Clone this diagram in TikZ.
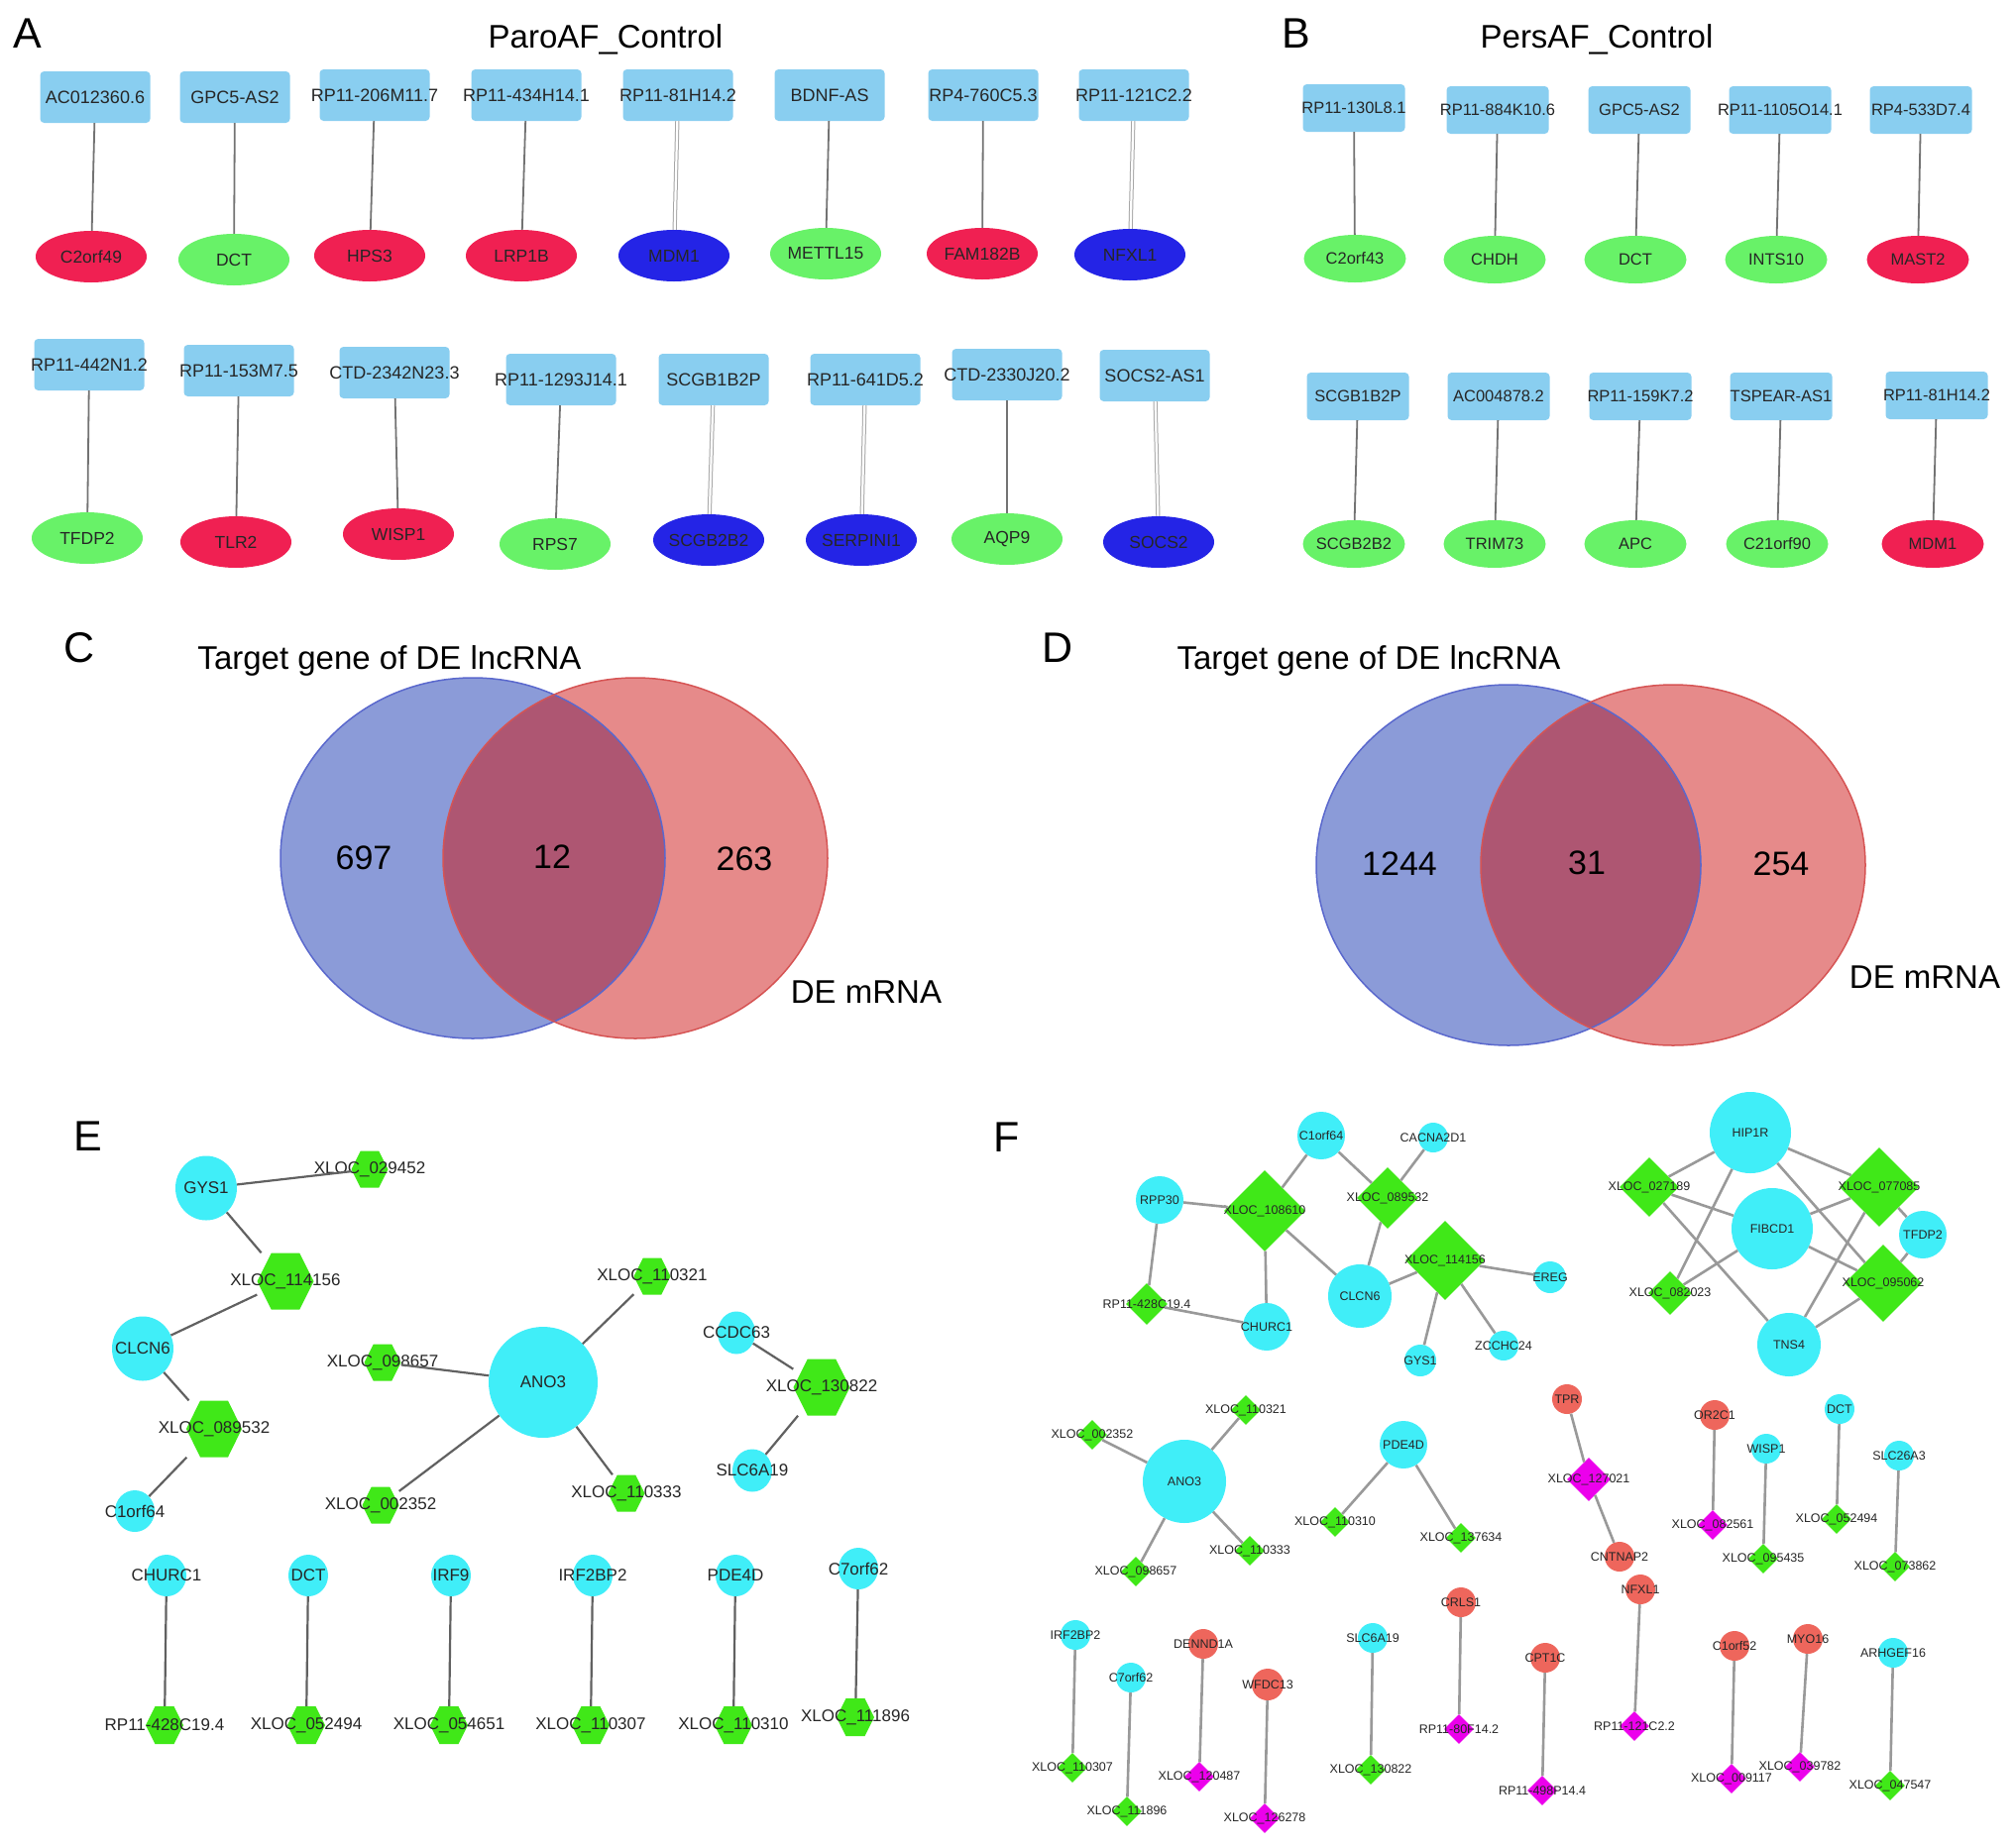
\documentclass[tikz,border=0pt]{standalone}
\usepackage{fontspec}
\setmainfont{Liberation Sans}
\usetikzlibrary{shapes.geometric,calc}
\definecolor{boxblue}{RGB}{137,206,240}
\definecolor{ared}{RGB}{240,32,82}
\definecolor{agreen}{RGB}{104,242,104}
\definecolor{ablue}{RGB}{36,36,230}
\definecolor{vblue}{RGB}{139,155,216}
\definecolor{vred}{RGB}{230,138,138}
\definecolor{vover}{RGB}{174,86,114}
\definecolor{vblueb}{RGB}{90,104,205}
\definecolor{vredb}{RGB}{214,84,84}
\definecolor{ecyan}{RGB}{64,238,248}
\definecolor{egreen}{RGB}{64,232,24}
\definecolor{fmag}{RGB}{236,0,236}
\definecolor{fsal}{RGB}{238,102,92}
\newcommand\zb[1]{\makebox[0pt]{#1}}
\newcommand\fsz[1]{\fontsize{#1}{#1}\selectfont}
\tikzset{
  abox/.style={rectangle, rounded corners=4pt, fill=boxblue, minimum width=111pt, minimum height=52pt, inner sep=0pt, font=\fsz{18}, text=black!85},
  aell/.style={ellipse, minimum width=112pt, minimum height=52pt, inner sep=0pt, font=\fsz{17.5}, text=black!85},
  bbox/.style={abox, minimum width=103pt, minimum height=48pt, font=\fsz{16.5}},
  bell/.style={aell, minimum width=103pt, minimum height=48pt, font=\fsz{16.5}},
  redn/.style={fill=ared}, grn/.style={fill=agreen}, blu/.style={fill=ablue},
  sline/.style={draw=black!55, line width=1.8pt},
  dline/.style={draw=black!35, line width=1pt, double=white, double distance=2.2pt},
  panel/.style={font=\fsz{43}, inner sep=0pt},
  ttl/.style={font=\fsz{33}, inner sep=0pt},
  vnum/.style={font=\fsz{34}, inner sep=0pt},
  ecirc/.style={ellipse, fill=ecyan, inner sep=0pt, font=\fsz{17}, text=black!85},
  ehex/.style={rectangle, inner sep=0pt, font=\fsz{17}, text=black!85,
    path picture={\fill[egreen] (path picture bounding box.west)
      -- ($(path picture bounding box.north west)!.25!(path picture bounding box.north east)$)
      -- ($(path picture bounding box.north west)!.75!(path picture bounding box.north east)$)
      -- (path picture bounding box.east)
      -- ($(path picture bounding box.south west)!.75!(path picture bounding box.south east)$)
      -- ($(path picture bounding box.south west)!.25!(path picture bounding box.south east)$)
      -- cycle;}},
  eedge/.style={draw=black!62, line width=2.2pt},
  fc/.style={circle, fill=ecyan, inner sep=0pt, font=\fsz{12.5}, text=black!85},
  fs/.style={circle, fill=fsal, inner sep=0pt, minimum size=30pt, font=\fsz{12.5}, text=black!85},
  fd/.style={diamond, aspect=1, fill=egreen, inner sep=0pt, font=\fsz{12.5}, text=black!85},
  fm/.style={fd, fill=fmag},
  fedge/.style={draw=black!40, line width=2.6pt},
}
\begin{document}
\begin{tikzpicture}[x=1pt,y=-1pt]
\useasboundingbox (0,0) rectangle (2032,1864);
\fill[white] (0,0) rectangle (2032,1864);
% ---------------- Panel A ----------------
\node[panel,anchor=base] (lblA) at (28,48) {A};
\node[ttl,anchor=base] (ttlA) at (611,48) {ParoAF\_Control};
\node[abox] (a1b) at (96,98) {\zb{AC012360.6}};
\node[abox] (a2b) at (237,98) {\zb{GPC5-AS2}};
\node[abox] (a3b) at (378,96) {\zb{RP11-206M11.7}};
\node[abox] (a4b) at (531,96) {\zb{RP11-434H14.1}};
\node[abox] (a5b) at (684,96) {\zb{RP11-81H14.2}};
\node[abox] (a6b) at (837,96) {\zb{BDNF-AS}};
\node[abox] (a7b) at (992,96) {\zb{RP4-760C5.3}};
\node[abox] (a8b) at (1144,96) {\zb{RP11-121C2.2}};
\node[aell,redn] (a1e) at (92,259) {\zb{C2orf49}};
\node[aell,grn] (a2e) at (236,262) {\zb{DCT}};
\node[aell,redn] (a3e) at (373,258) {\zb{HPS3}};
\node[aell,redn] (a4e) at (526,258) {\zb{LRP1B}};
\node[aell,blu] (a5e) at (680,258) {\zb{MDM1}};
\node[aell,grn] (a6e) at (833,256) {\zb{METTL15}};
\node[aell,redn] (a7e) at (991,256) {\zb{FAM182B}};
\node[aell,blu] (a8e) at (1140,257) {\zb{NFXL1}};
\node[abox] (a9b) at (90,368) {\zb{RP11-442N1.2}};
\node[abox] (a10b) at (241,374) {\zb{RP11-153M7.5}};
\node[abox] (a11b) at (398,376) {\zb{CTD-2342N23.3}};
\node[abox] (a12b) at (566,383) {\zb{RP11-1293J14.1}};
\node[abox] (a13b) at (720,383) {\zb{SCGB1B2P}};
\node[abox] (a14b) at (873,383) {\zb{RP11-641D5.2}};
\node[abox] (a15b) at (1016,378) {\zb{CTD-2330J20.2}};
\node[abox] (a16b) at (1165,379) {\zb{SOCS2-AS1}};
\node[aell,grn] (a9e) at (88,543) {\zb{TFDP2}};
\node[aell,redn] (a10e) at (238,547) {\zb{TLR2}};
\node[aell,redn] (a11e) at (402,539) {\zb{WISP1}};
\node[aell,grn] (a12e) at (560,549) {\zb{RPS7}};
\node[aell,blu] (a13e) at (715,545) {\zb{SCGB2B2}};
\node[aell,blu] (a14e) at (869,545) {\zb{SERPINI1}};
\node[aell,grn] (a15e) at (1016,544) {\zb{AQP9}};
\node[aell,blu] (a16e) at (1169,547) {\zb{SOCS2}};
\foreach \i in {1,2,3,4,6,7,9,10,11,12,15} {\draw[sline] (a\i b) -- (a\i e);}
\foreach \i in {5,8,13,14,16} {\draw[dline] (a\i b) -- (a\i e);}
% ---------------- Panel B ----------------
\node[panel,anchor=base] (lblB) at (1308,48) {B};
\node[ttl,anchor=base] (ttlB) at (1611,48) {PersAF\_Control};
\node[bbox] (b1b) at (1366,109) {\zb{RP11-130L8.1}};
\node[bbox] (b2b) at (1511,111) {\zb{RP11-884K10.6}};
\node[bbox] (b3b) at (1654,111) {\zb{GPC5-AS2}};
\node[bbox] (b4b) at (1796,111) {\zb{RP11-1105O14.1}};
\node[bbox] (b5b) at (1938,111) {\zb{RP4-533D7.4}};
\node[bell,grn] (b1e) at (1367,261) {\zb{C2orf43}};
\node[bell,grn] (b2e) at (1508,262) {\zb{CHDH}};
\node[bell,grn] (b3e) at (1650,262) {\zb{DCT}};
\node[bell,grn] (b4e) at (1792,262) {\zb{INTS10}};
\node[bell,redn] (b5e) at (1935,262) {\zb{MAST2}};
\node[bbox] (b6b) at (1370,400) {\zb{SCGB1B2P}};
\node[bbox] (b7b) at (1512,400) {\zb{AC004878.2}};
\node[bbox] (b8b) at (1655,400) {\zb{RP11-159K7.2}};
\node[bbox] (b9b) at (1797,400) {\zb{TSPEAR-AS1}};
\node[bbox] (b10b) at (1954,399) {\zb{RP11-81H14.2}};
\node[bell,grn] (b6e) at (1366,549) {\zb{SCGB2B2}};
\node[bell,grn] (b7e) at (1508,549) {\zb{TRIM73}};
\node[bell,grn] (b8e) at (1650,549) {\zb{APC}};
\node[bell,grn] (b9e) at (1793,549) {\zb{C21orf90}};
\node[bell,redn] (b10e) at (1950,549) {\zb{MDM1}};
\foreach \i in {1,...,10} {\draw[sline] (b\i b) -- (b\i e);}
% ---------------- Panel C ----------------
\node[panel,anchor=base] (lblC) at (80,668) {C};
\node[ttl,anchor=base] (ttlC) at (393,675) {Target gene of DE lncRNA};
\fill[vblue] (477,866) ellipse [x radius=194pt, y radius=182pt];
\fill[vred] (641,866) ellipse [x radius=194pt, y radius=182pt];
\begin{scope}
  \clip (477,866) ellipse [x radius=194pt, y radius=182pt];
  \fill[vover] (641,866) ellipse [x radius=194pt, y radius=182pt];
\end{scope}
\draw[vblueb, line width=1.5pt] (477,866) ellipse [x radius=194pt, y radius=182pt];
\draw[vredb, line width=1.5pt] (641,866) ellipse [x radius=194pt, y radius=182pt];
\node[vnum,anchor=base] (c697) at (367,877) {697};
\node[vnum,anchor=base] (c12) at (557,876) {12};
\node[vnum,anchor=base] (c263) at (751,878) {263};
\node[ttl,anchor=base] (cde) at (874,1012) {DE mRNA};
% ---------------- Panel D ----------------
\node[panel,anchor=base] (lblD) at (1067,668) {D};
\node[ttl,anchor=base] (ttlD) at (1381,675) {Target gene of DE lncRNA};
\fill[vblue] (1522,873) ellipse [x radius=194pt, y radius=182pt];
\fill[vred] (1688,873) ellipse [x radius=194pt, y radius=182pt];
\begin{scope}
  \clip (1522,873) ellipse [x radius=194pt, y radius=182pt];
  \fill[vover] (1688,873) ellipse [x radius=194pt, y radius=182pt];
\end{scope}
\draw[vblueb, line width=1.5pt] (1522,873) ellipse [x radius=194pt, y radius=182pt];
\draw[vredb, line width=1.5pt] (1688,873) ellipse [x radius=194pt, y radius=182pt];
\node[vnum,anchor=base] (d1244) at (1412,883) {1244};
\node[vnum,anchor=base] (d31) at (1601,882) {31};
\node[vnum,anchor=base] (d254) at (1797,883) {254};
\node[ttl,anchor=base] (dde) at (1942,997) {DE mRNA};
% ---------------- Panel E ----------------
\node[panel,anchor=base] (lblE) at (89,1161) {E};
\node[ecirc, minimum width=62pt, minimum height=65pt] (eGYS) at (208,1199) {\zb{GYS1}};
\node[ehex, minimum width=37pt, minimum height=37pt] (eXa) at (373,1180) {\zb{XLOC\_029452}};
\node[ehex, minimum width=57pt, minimum height=57pt] (eXb) at (288,1293) {\zb{XLOC\_114156}};
\node[ecirc, minimum width=62pt, minimum height=65pt] (eCLCN) at (144,1361) {\zb{CLCN6}};
\node[ehex, minimum width=56pt, minimum height=57pt] (eXc) at (216,1442) {\zb{XLOC\_089532}};
\node[ecirc, minimum width=40pt, minimum height=42pt] (eCone) at (136,1525) {\zb{C1orf64}};
\node[ehex, minimum width=37pt, minimum height=37pt] (eXd) at (386,1375) {\zb{XLOC\_098657}};
\node[ecirc, minimum width=110pt, minimum height=112pt] (eANO) at (548,1395) {\zb{ANO3}};
\node[ehex, minimum width=37pt, minimum height=37pt] (eXe) at (658,1288) {\zb{XLOC\_110321}};
\node[ehex, minimum width=37pt, minimum height=37pt] (eXf) at (384,1519) {\zb{XLOC\_002352}};
\node[ehex, minimum width=37pt, minimum height=37pt] (eXg) at (632,1507) {\zb{XLOC\_110333}};
\node[ecirc, minimum width=38pt, minimum height=43pt] (eCCDC) at (743,1345) {\zb{CCDC63}};
\node[ehex, minimum width=57pt, minimum height=57pt] (eXh) at (829,1400) {\zb{XLOC\_130822}};
\node[ecirc, minimum width=40pt, minimum height=43pt] (eSLC) at (759,1484) {\zb{SLC6A19}};
\draw[eedge] (eGYS) -- (eXa);
\draw[eedge] (eGYS) -- (eXb);
\draw[eedge] (eXb) -- (eCLCN);
\draw[eedge] (eCLCN) -- (eXc);
\draw[eedge] (eXc) -- (eCone);
\draw[eedge] (eANO) -- (eXd);
\draw[eedge] (eANO) -- (eXe);
\draw[eedge] (eANO) -- (eXf);
\draw[eedge] (eANO) -- (eXg);
\draw[eedge] (eCCDC) -- (eXh);
\draw[eedge] (eXh) -- (eSLC);
\node[ecirc, minimum width=40pt, minimum height=42pt] (eT1) at (168,1590) {\zb{CHURC1}};
\node[ecirc, minimum width=40pt, minimum height=42pt] (eT2) at (311,1590) {\zb{DCT}};
\node[ecirc, minimum width=40pt, minimum height=42pt] (eT3) at (455,1590) {\zb{IRF9}};
\node[ecirc, minimum width=40pt, minimum height=42pt] (eT4) at (598,1590) {\zb{IRF2BP2}};
\node[ecirc, minimum width=40pt, minimum height=42pt] (eT5) at (742,1590) {\zb{PDE4D}};
\node[ecirc, minimum width=40pt, minimum height=42pt] (eT6) at (866,1583) {\zb{C7orf62}};
\node[ehex, minimum width=38pt, minimum height=38pt] (eB1) at (166,1741) {\zb{RP11-428C19.4}};
\node[ehex, minimum width=38pt, minimum height=38pt] (eB2) at (309,1741) {\zb{XLOC\_052494}};
\node[ehex, minimum width=38pt, minimum height=38pt] (eB3) at (453,1741) {\zb{XLOC\_054651}};
\node[ehex, minimum width=38pt, minimum height=38pt] (eB4) at (596,1741) {\zb{XLOC\_110307}};
\node[ehex, minimum width=38pt, minimum height=38pt] (eB5) at (740,1741) {\zb{XLOC\_110310}};
\node[ehex, minimum width=38pt, minimum height=38pt] (eB6) at (863,1733) {\zb{XLOC\_111896}};
\foreach \i in {1,...,6} {\draw[eedge] (eT\i) -- (eB\i);}
% ---------------- Panel F ----------------
\node[panel,anchor=base] (lblF) at (1016,1162) {F};
% cluster 1
\node[fc, minimum size=48pt] (fCone) at (1333,1146) {\zb{C1orf64}};
\node[fc, minimum size=30pt] (fCAC) at (1446,1148) {\zb{CACNA2D1}};
\node[fc, minimum size=48pt] (fRPP) at (1170,1211) {\zb{RPP30}};
\node[fd, minimum size=82pt] (fX108) at (1276,1222) {\zb{XLOC\_108610}};
\node[fd, minimum size=62pt] (fX089) at (1400,1209) {\zb{XLOC\_089532}};
\node[fd, minimum size=80pt] (fX114) at (1458,1272) {\zb{XLOC\_114156}};
\node[fc, minimum size=64pt] (fCLCN) at (1372,1308) {\zb{CLCN6}};
\node[fd, minimum size=42pt] (fRP428) at (1157,1316) {\zb{RP11-428C19.4}};
\node[fc, minimum size=48pt] (fCHURC) at (1278,1339) {\zb{CHURC1}};
\node[fc, minimum size=32pt] (fGYS) at (1433,1373) {\zb{GYS1}};
\node[fc, minimum size=32pt] (fEREG) at (1564,1289) {\zb{EREG}};
\node[fc, minimum size=30pt] (fZCC) at (1517,1358) {\zb{ZCCHC24}};
\draw[fedge] (fRPP) -- (fX108);
\draw[fedge] (fX108) -- (fCone);
\draw[fedge] (fCone) -- (fX089);
\draw[fedge] (fCAC) -- (fX089);
\draw[fedge] (fX108) -- (fCLCN);
\draw[fedge] (fX108) -- (fCHURC);
\draw[fedge] (fX089) -- (fCLCN);
\draw[fedge] (fRPP) -- (fRP428);
\draw[fedge] (fRP428) -- (fCHURC);
\draw[fedge] (fCLCN) -- (fX114);
\draw[fedge] (fX114) -- (fEREG);
\draw[fedge] (fX114) -- (fGYS);
\draw[fedge] (fX114) -- (fZCC);
% cluster 2
\node[fc, minimum size=82pt] (fHIP) at (1766,1143) {\zb{HIP1R}};
\node[fc, minimum size=82pt] (fFIB) at (1788,1240) {\zb{FIBCD1}};
\node[fc, minimum size=64pt] (fTNS) at (1805,1357) {\zb{TNS4}};
\node[fc, minimum size=48pt] (fTFDP) at (1940,1246) {\zb{TFDP2}};
\node[fd, minimum size=60pt] (fX027) at (1664,1198) {\zb{XLOC\_027189}};
\node[fd, minimum size=44pt] (fX082) at (1685,1305) {\zb{XLOC\_082023}};
\node[fd, minimum size=80pt] (fX077) at (1896,1198) {\zb{XLOC\_077085}};
\node[fd, minimum size=78pt] (fX095) at (1900,1295) {\zb{XLOC\_095062}};
\draw[fedge] (fHIP) -- (fX027);
\draw[fedge] (fHIP) -- (fX082);
\draw[fedge] (fHIP) -- (fX077);
\draw[fedge] (fHIP) -- (fX095);
\draw[fedge] (fX027) -- (fFIB);
\draw[fedge] (fX027) -- (fTNS);
\draw[fedge] (fX082) -- (fFIB);
\draw[fedge] (fFIB) -- (fX077);
\draw[fedge] (fFIB) -- (fX095);
\draw[fedge] (fX077) -- (fTNS);
\draw[fedge] (fX077) -- (fTFDP);
\draw[fedge] (fX095) -- (fTFDP);
\draw[fedge] (fX095) -- (fTNS);
% cluster 3
\node[fc, minimum size=84pt] (fANO) at (1195,1495) {\zb{ANO3}};
\node[fd, minimum size=30pt] (fX002) at (1102,1448) {\zb{XLOC\_002352}};
\node[fd, minimum size=30pt] (fX321) at (1257,1423) {\zb{XLOC\_110321}};
\node[fd, minimum size=30pt] (fX333) at (1261,1565) {\zb{XLOC\_110333}};
\node[fd, minimum size=30pt] (fX098) at (1146,1586) {\zb{XLOC\_098657}};
\draw[fedge] (fANO) -- (fX002);
\draw[fedge] (fANO) -- (fX321);
\draw[fedge] (fANO) -- (fX333);
\draw[fedge] (fANO) -- (fX098);
\node[fc, minimum size=48pt] (fPDE) at (1416,1458) {\zb{PDE4D}};
\node[fd, minimum size=30pt] (fX310) at (1347,1536) {\zb{XLOC\_110310}};
\node[fd, minimum size=30pt] (fX137) at (1474,1552) {\zb{XLOC\_137634}};
\draw[fedge] (fPDE) -- (fX310);
\draw[fedge] (fPDE) -- (fX137);
% TPR chain
\node[fs] (fTPR) at (1581,1412) {\zb{TPR}};
\node[fm, minimum size=44pt] (fX127) at (1603,1493) {\zb{XLOC\_127021}};
\node[fs] (fCNT) at (1634,1571) {\zb{CNTNAP2}};
\draw[fedge] (fTPR) -- (fX127);
\draw[fedge] (fX127) -- (fCNT);
% pairs (upper row)
\node[fs] (fOR) at (1730,1428) {\zb{OR2C1}};
\node[fm, minimum size=30pt] (fX0825) at (1728,1539) {\zb{XLOC\_082561}};
\node[fc, minimum size=30pt] (fWISP) at (1782,1462) {\zb{WISP1}};
\node[fd, minimum size=30pt] (fX0954) at (1779,1573) {\zb{XLOC\_095435}};
\node[fc, minimum size=30pt] (fDCT) at (1856,1422) {\zb{DCT}};
\node[fd, minimum size=30pt] (fX0524) at (1853,1533) {\zb{XLOC\_052494}};
\node[fc, minimum size=30pt] (fSLC26) at (1916,1469) {\zb{SLC26A3}};
\node[fd, minimum size=30pt] (fX0738) at (1912,1581) {\zb{XLOC\_073862}};
\draw[fedge] (fOR) -- (fX0825);
\draw[fedge] (fWISP) -- (fX0954);
\draw[fedge] (fDCT) -- (fX0524);
\draw[fedge] (fSLC26) -- (fX0738);
% pairs (lower row)
\node[fc, minimum size=30pt] (fIRF) at (1085,1650) {\zb{IRF2BP2}};
\node[fd, minimum size=30pt] (fX1103) at (1082,1784) {\zb{XLOC\_110307}};
\node[fc, minimum size=30pt] (fC7) at (1141,1693) {\zb{C7orf62}};
\node[fd, minimum size=30pt] (fX1118) at (1137,1828) {\zb{XLOC\_111896}};
\node[fs] (fDEN) at (1214,1659) {\zb{DENND1A}};
\node[fm, minimum size=30pt] (fX1204) at (1210,1793) {\zb{XLOC\_120487}};
\node[fs, minimum size=32pt] (fWFDC) at (1279,1700) {\zb{WFDC13}};
\node[fm, minimum size=30pt] (fX1262) at (1276,1835) {\zb{XLOC\_126278}};
\node[fc, minimum size=30pt] (fSLC6) at (1385,1653) {\zb{SLC6A19}};
\node[fd, minimum size=30pt] (fX1308) at (1383,1786) {\zb{XLOC\_130822}};
\node[fs] (fCRLS) at (1474,1617) {\zb{CRLS1}};
\node[fm, minimum size=30pt] (fRP80) at (1472,1745) {\zb{RP11-80F14.2}};
\node[fs] (fCPT) at (1559,1673) {\zb{CPT1C}};
\node[fm, minimum size=30pt] (fRP498) at (1556,1807) {\zb{RP11-498P14.4}};
\node[fs] (fNFX) at (1655,1604) {\zb{NFXL1}};
\node[fm, minimum size=30pt] (fRP121) at (1649,1742) {\zb{RP11-121C2.2}};
\node[fs] (fC1o52) at (1750,1661) {\zb{C1orf52}};
\node[fm, minimum size=30pt] (fX0091) at (1747,1795) {\zb{XLOC\_009117}};
\node[fs] (fMYO) at (1824,1654) {\zb{MYO16}};
\node[fm, minimum size=30pt] (fX0397) at (1816,1783) {\zb{XLOC\_039782}};
\node[fc, minimum size=30pt] (fARH) at (1910,1668) {\zb{ARHGEF16}};
\node[fd, minimum size=30pt] (fX0475) at (1907,1802) {\zb{XLOC\_047547}};
\draw[fedge] (fIRF) -- (fX1103);
\draw[fedge] (fC7) -- (fX1118);
\draw[fedge] (fDEN) -- (fX1204);
\draw[fedge] (fWFDC) -- (fX1262);
\draw[fedge] (fSLC6) -- (fX1308);
\draw[fedge] (fCRLS) -- (fRP80);
\draw[fedge] (fCPT) -- (fRP498);
\draw[fedge] (fNFX) -- (fRP121);
\draw[fedge] (fC1o52) -- (fX0091);
\draw[fedge] (fMYO) -- (fX0397);
\draw[fedge] (fARH) -- (fX0475);
\end{tikzpicture}
\end{document}
